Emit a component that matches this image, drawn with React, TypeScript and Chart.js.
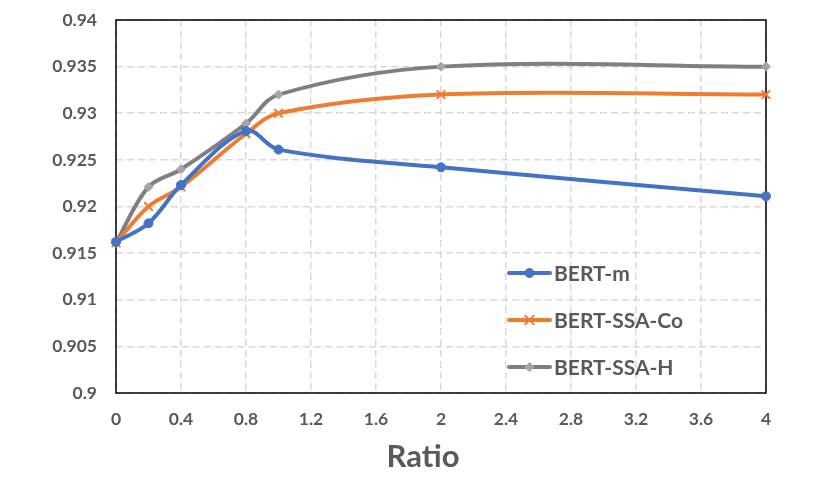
import React, { useEffect, useRef } from "react";
import { Chart, ChartConfiguration, Plugin, registerables } from "chart.js";
import { drawPoint } from "chart.js/helpers";

Chart.register(...registerables);

// values
const ratios = [0, 0.2, 0.4, 0.8, 1, 2, 4];
const bertM = [0.9162, 0.9182, 0.9223, 0.9281, 0.9261, 0.9242, 0.9211];
const bertSsaCo = [0.9161, 0.92, 0.9221, 0.9278, 0.93, 0.932, 0.932];
const bertSsaH = [0.9161, 0.9221, 0.924, 0.9289, 0.932, 0.935, 0.935];
const seriesNames = ["BERT-m", "BERT-SSA-Co", "BERT-SSA-H"];
const xTitle = "Ratio";

const xTicks = [0, 0.4, 0.8, 1.2, 1.6, 2, 2.4, 2.8, 3.2, 3.6, 4];
const yTicks = [0.9, 0.905, 0.91, 0.915, 0.92, 0.925, 0.93, 0.935, 0.94];

const FONT = "Lato, 'Open Sans', sans-serif";
const TEXT = "#595959";
const GRID = "#d9d9d9";

const framePlugin: Plugin = {
  id: "frame",
  beforeDatasetsDraw(chart) {
    const { ctx, chartArea: a } = chart;
    ctx.save();
    ctx.strokeStyle = "#000";
    ctx.lineWidth = 1.5;
    ctx.strokeRect(a.left, a.top, a.right - a.left, a.bottom - a.top);
    ctx.restore();
  },
  afterDraw(chart) {
    // axis title sits a little left of the plot centre in the original
    const ctx = chart.ctx;
    ctx.save();
    ctx.fillStyle = TEXT;
    ctx.font = `bold 31px ${FONT}`;
    ctx.textAlign = "center";
    ctx.textBaseline = "middle";
    ctx.fillText(xTitle, 423, 457);
    ctx.restore();
  },
};

// legend sits inside the plot, lower right, line + marker + label
const legendPlugin: Plugin = {
  id: "insideLegend",
  afterDatasetsDraw(chart) {
    const ctx = chart.ctx;
    const x0 = 509;
    const y0 = 273;
    const row = 47;
    chart.data.datasets.forEach((ds: any, i: number) => {
      const y = y0 + i * row;
      ctx.save();
      ctx.strokeStyle = ds.borderColor;
      ctx.lineWidth = 4;
      ctx.lineCap = "round";
      ctx.beginPath();
      ctx.moveTo(x0, y);
      ctx.lineTo(x0 + 41, y);
      ctx.stroke();
      ctx.fillStyle = ds.pointBackgroundColor;
      ctx.strokeStyle = ds.pointBorderColor;
      ctx.lineWidth = ds.pointBorderWidth;
      drawPoint(
        ctx,
        { pointStyle: ds.pointStyle, radius: ds.pointRadius, borderWidth: ds.pointBorderWidth, rotation: 0 } as any,
        x0 + 20.5,
        y
      );
      ctx.fillStyle = TEXT;
      ctx.font = `bold 21px ${FONT}`;
      ctx.textBaseline = "middle";
      ctx.textAlign = "left";
      ctx.fillText(ds.label, x0 + 45, y + 1);
      ctx.restore();
    });
  },
};

const App: React.FC = () => {
  const canvasRef = useRef<HTMLCanvasElement | null>(null);
  const chartRef = useRef<Chart | null>(null);

  useEffect(() => {
    document.body.style.margin = "0";
    if (!canvasRef.current) return;
    if (chartRef.current) chartRef.current.destroy();

    const toPoints = (vals: number[]) => vals.map((v, i) => ({ x: ratios[i], y: v }));

    const config: ChartConfiguration<"line"> = {
      type: "line",
      data: {
        datasets: [
          {
            label: seriesNames[0],
            data: toPoints(bertM),
            borderColor: "#4472c4",
            backgroundColor: "#4472c4",
            pointBackgroundColor: "#4472c4",
            pointBorderColor: "#4472c4",
            pointStyle: "circle",
            pointRadius: 4.5,
            pointBorderWidth: 1,
            borderWidth: 4,
            tension: 0.35,
            clip: false,
          },
          {
            label: seriesNames[1],
            data: toPoints(bertSsaCo),
            borderColor: "#ed7d31",
            backgroundColor: "#ed7d31",
            pointBackgroundColor: "#ed7d31",
            pointBorderColor: "#ed7d31",
            pointStyle: "crossRot",
            pointRadius: 6,
            pointBorderWidth: 2,
            borderWidth: 4,
            tension: 0.35,
            clip: false,
          },
          {
            label: seriesNames[2],
            data: toPoints(bertSsaH),
            borderColor: "#7f7f7f",
            backgroundColor: "#a5a5a5",
            pointBackgroundColor: "#a5a5a5",
            pointBorderColor: "#a5a5a5",
            pointStyle: "rectRot",
            pointRadius: 4.5,
            pointBorderWidth: 1,
            borderWidth: 4,
            tension: 0.35,
            clip: false,
          },
        ],
      },
      options: {
        responsive: false,
        animation: false,
        layout: { padding: { left: 0, right: 64, top: 20, bottom: 0 } },
        plugins: {
          legend: { display: false },
          tooltip: { enabled: false },
        },
        scales: {
          x: {
            type: "linear",
            min: 0,
            max: 4,
            afterBuildTicks: (s) => {
              s.ticks = xTicks.map((v) => ({ value: v }));
            },
            afterFit: (s) => {
              s.height = 94;
            },
            ticks: {
              padding: 16,
              color: TEXT,
              font: { family: FONT, size: 17.5, weight: "bold" },
              maxRotation: 0,
              autoSkip: false,
              callback: (v) => String(v),
            },
            grid: { color: GRID, lineWidth: 1.5, drawTicks: false },
            border: { display: false, dash: [7, 4] },
          },
          y: {
            min: 0.9,
            max: 0.94,
            afterBuildTicks: (s) => {
              s.ticks = yTicks.map((v) => ({ value: v }));
            },
            afterFit: (s: any) => {
              s.width = 116;
              // keep the label padding from pushing the plot down
              s.paddingTop = 10;
              s.paddingBottom = 10;
            },
            ticks: {
              padding: 19,
              color: TEXT,
              font: { family: FONT, size: 17.5, weight: "bold" },
              callback: (v) => String(Math.round(Number(v) * 1000) / 1000),
            },
            grid: { color: GRID, lineWidth: 1.5, drawTicks: false },
            border: { display: false, dash: [7, 4] },
          },
        },
      },
      plugins: [framePlugin, legendPlugin],
    };

    chartRef.current = new Chart(canvasRef.current, config);
    return () => {
      if (chartRef.current) {
        chartRef.current.destroy();
        chartRef.current = null;
      }
    };
  }, []);

  return (
    <div style={{ width: 830, height: 487, background: "#fff" }}>
      <canvas ref={canvasRef} width={830} height={487}></canvas>
    </div>
  );
};

export default App;
